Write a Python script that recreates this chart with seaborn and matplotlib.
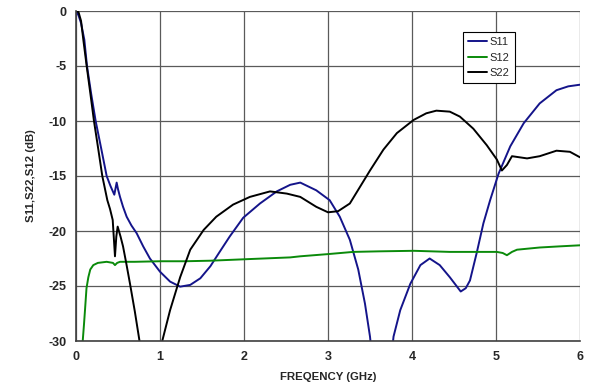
import matplotlib
matplotlib.use("Agg")
import matplotlib.pyplot as plt
import seaborn as sns
import pandas as pd

# ---- data ----
s11_freq = [0, 0.03, 0.06, 0.099, 0.131, 0.180, 0.234, 0.30, 0.365, 0.41, 0.456, 0.484,
            0.50, 0.524, 0.56, 0.603, 0.66, 0.722, 0.80, 0.88, 0.94, 1.0, 1.12, 1.24, 1.36,
            1.48, 1.60, 1.71, 1.83, 1.99, 2.19, 2.39, 2.55, 2.67, 2.86, 3.02, 3.14, 3.26,
            3.36, 3.44, 3.50, 3.64, 3.78, 3.86, 3.98, 4.10, 4.21, 4.33, 4.45, 4.52, 4.58,
            4.64, 4.69, 4.77, 4.85, 4.93, 5.03, 5.17, 5.33, 5.52, 5.72, 5.86, 6.0]
s11_db = [0, -0.4, -1.1, -2.6, -5.0, -7.5, -10.0, -12.5, -15.0, -15.9, -16.7, -15.6,
          -16.2, -16.9, -17.8, -18.7, -19.5, -20.2, -21.4, -22.5, -23.1, -23.7, -24.6, -25.06,
          -24.9, -24.3, -23.2, -21.9, -20.5, -18.8, -17.5, -16.4, -15.8, -15.6, -16.3, -17.2,
          -18.7, -20.8, -23.5, -26.6, -29.6, -40.0, -29.6, -27.2, -24.8, -23.1, -22.5, -23.1,
          -24.2, -24.9, -25.5, -25.2, -24.5, -22.0, -19.3, -17.2, -14.8, -12.3, -10.2, -8.4,
          -7.2, -6.85, -6.7]

s12_freq = [0.07, 0.08, 0.095, 0.107, 0.125, 0.147, 0.17, 0.206, 0.26, 0.365, 0.44, 0.464,
            0.49, 0.524, 0.7, 1.0, 1.3, 1.6, 2.07, 2.55, 2.67, 3.0, 3.3, 3.6, 4.02, 4.45,
            4.75, 5.01, 5.08, 5.13, 5.19, 5.25, 5.52, 5.75, 6.0]
s12_db = [-35, -30, -28.5, -27.2, -25.2, -24.2, -23.5, -23.1, -22.9, -22.8, -22.9, -23.1,
          -22.9, -22.8, -22.8, -22.75, -22.75, -22.7, -22.55, -22.4, -22.3, -22.1, -21.9,
          -21.85, -21.8, -21.9, -21.9, -21.9, -22.0, -22.2, -21.9, -21.7, -21.5, -21.4, -21.3]

s22_freq = [0, 0.03, 0.06, 0.087, 0.127, 0.171, 0.214, 0.264, 0.313, 0.373, 0.405, 0.437,
            0.464, 0.48, 0.496, 0.53, 0.56, 0.60, 0.643, 0.70, 0.754, 0.88, 1.03, 1.12, 1.24,
            1.36, 1.52, 1.67, 1.87, 2.07, 2.31, 2.51, 2.67, 2.86, 3.0, 3.12, 3.26, 3.38,
            3.50, 3.66, 3.82, 4.02, 4.17, 4.29, 4.45, 4.57, 4.73, 4.89, 5.01, 5.07, 5.13,
            5.19, 5.28, 5.37, 5.52, 5.72, 5.88, 6.0]
s22_db = [0, -0.1, -0.9, -2.6, -5.0, -7.5, -10.0, -12.5, -15.0, -17.2, -18.0, -19.0,
          -22.3, -20.5, -19.6, -20.5, -21.4, -23.0, -24.8, -27.3, -29.9, -38.0, -29.9, -27.2,
          -24.2, -21.7, -19.9, -18.7, -17.6, -16.9, -16.4, -16.6, -16.9, -17.8, -18.3, -18.2,
          -17.5, -16.0, -14.5, -12.6, -11.1, -9.9, -9.3, -9.06, -9.15, -9.6, -10.7, -12.2,
          -13.5, -14.5, -14.0, -13.2, -13.3, -13.4, -13.2, -12.7, -12.8, -13.3]

series_names = ["S11", "S12", "S22"]
x_ticks = [0, 1, 2, 3, 4, 5, 6]
y_ticks = [0, -5, -10, -15, -20, -25, -30]

df = pd.concat([
    pd.DataFrame({"freq": s11_freq, "db": s11_db, "series": "S11"}),
    pd.DataFrame({"freq": s12_freq, "db": s12_db, "series": "S12"}),
    pd.DataFrame({"freq": s22_freq, "db": s22_db, "series": "S22"}),
], ignore_index=True)

sns.set_style("white")
plt.rcParams["font.family"] = ["Liberation Sans", "DejaVu Sans"]

fig = plt.figure(figsize=(5.93, 3.90), dpi=100)
ax = fig.add_axes([76/593, 1 - 341/390, (580 - 76)/593, (341 - 11)/390])

palette = {"S11": "#14148a", "S12": "#0a8a0a", "S22": "#000000"}
sns.lineplot(data=df, x="freq", y="db", hue="series", hue_order=series_names,
             palette=palette, linewidth=1.4, ax=ax, estimator=None, sort=False)

ax.set_xlim(0, 6)
ax.set_ylim(-30, 0)
ax.set_xticks(x_ticks)
ax.set_yticks(y_ticks)
ax.set_xticklabels([str(t) for t in x_ticks], fontweight="bold", fontsize=9)
ax.set_yticklabels([str(t) for t in y_ticks], fontweight="bold", fontsize=9)
ax.grid(True, color="#5a5a5a", linewidth=0.9)
ax.set_axisbelow(True)
for s in ["top", "right"]:
    ax.spines[s].set_visible(False)
for s in ["left", "bottom"]:
    ax.spines[s].set_color("#404040")
    ax.spines[s].set_linewidth(1.2)
ax.tick_params(axis="both", direction="out", length=4, width=1, color="#404040",
               pad=3, labelsize=9)

ax.set_xlabel("FREQENCY (GHz)", fontweight="bold", fontsize=8.2, labelpad=7)
ax.set_ylabel("S11,S22,S12 (dB)", fontweight="bold", fontsize=8.2, labelpad=9)

leg = ax.legend(loc="upper left", bbox_to_anchor=((463 - 76)/504, 1 - (32 - 11)/330),
                fontsize=8, frameon=True, fancybox=False, handlelength=1.7,
                handletextpad=0.25, borderpad=0.45, labelspacing=0.5, borderaxespad=0)
leg.get_frame().set_edgecolor("#000000")
leg.get_frame().set_linewidth(0.8)
leg.get_frame().set_alpha(1)

fig.savefig("out.png", dpi=100)
